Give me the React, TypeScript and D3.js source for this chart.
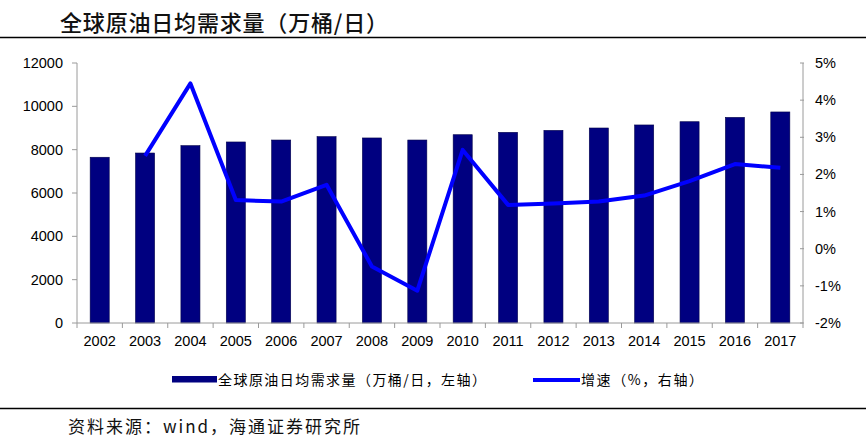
import React from "react";
import * as d3 from "d3";

const years = ["2002","2003","2004","2005","2006","2007","2008","2009","2010","2011","2012","2013","2014","2015","2016","2017"];
const demand = [7650, 7845, 8185, 8355, 8445, 8600, 8540, 8445, 8690, 8800, 8890, 9000, 9140, 9290, 9490, 9740];
const growth = [null, 2.50, 4.45, 1.31, 1.27, 1.72, -0.48, -1.13, 2.66, 1.18, 1.22, 1.27, 1.43, 1.82, 2.28, 2.18];
const leftTicks = [0, 2000, 4000, 6000, 8000, 10000, 12000];
const rightTicks = [-2, -1, 0, 1, 2, 3, 4, 5];

const W = 866, H = 439;
const L = 77, R = 803, T = 63, B = 323;
const FONT = "'Liberation Sans', Arial, sans-serif";
const CJK = "'Noto Sans CJK SC', sans-serif";

export default function App() {
  const x = d3.scaleBand<string>().domain(years).range([L, R]).paddingInner(0.58).paddingOuter(0.29);
  const xb = d3.scaleBand<string>().domain(years).range([L, R]);
  const yL = d3.scaleLinear().domain([0, 12000]).range([B, T]);
  const yR = d3.scaleLinear().domain([-2, 5]).range([B, T]);
  const pts = years.map((y, i) => ({ y, v: growth[i] })).filter(d => d.v !== null) as { y: string; v: number }[];
  const line = d3.line<{ y: string; v: number }>()
    .x(d => (xb(d.y) as number) + xb.bandwidth() / 2)
    .y(d => yR(d.v));
  const axisColor = "#9a9a9a";
  return (
    <svg width={W} height={H} style={{ position: "absolute", left: 0, top: 0, background: "#fff" }}>
      <text x={60} y={31} fontFamily={CJK} fontSize={22} fontWeight={500} fill="#111" textLength={328} lengthAdjust="spacing">全球原油日均需求量（万桶/日）</text>
      <line x1={0} x2={W} y1={37.5} y2={37.5} stroke="#000" strokeWidth={1.5} />
      {/* bars */}
      {years.map((yr, i) => (
        <rect key={yr} x={x(yr)} y={yL(demand[i])} width={x.bandwidth()} height={B - yL(demand[i])} fill="#000080" stroke="#00004a" strokeWidth={0.6} />
      ))}
      {/* axes */}
      <line x1={L} x2={L} y1={T} y2={B} stroke={axisColor} />
      <line x1={R} x2={R} y1={T} y2={B} stroke={axisColor} />
      <line x1={L} x2={R} y1={B} y2={B} stroke={axisColor} />
      {leftTicks.map(t => (
        <g key={t}>
          <line x1={L - 5} x2={L} y1={yL(t)} y2={yL(t)} stroke={axisColor} />
          <text x={63} y={yL(t) + 5} textAnchor="end" fontFamily={FONT} fontSize={14.5} fill="#000">{t}</text>
        </g>
      ))}
      {rightTicks.map(t => (
        <g key={t}>
          <line x1={R - 3} x2={R + 1} y1={yR(t)} y2={yR(t)} stroke={axisColor} />
          <text x={815} y={yR(t) + 5} textAnchor="start" fontFamily={FONT} fontSize={14.5} fill="#000">{t}%</text>
        </g>
      ))}
      {years.map((yr) => (
        <line key={yr} x1={xb(yr)} x2={xb(yr)} y1={B} y2={B + 5} stroke={axisColor} />
      ))}
      <line x1={R} x2={R} y1={B} y2={B + 5} stroke={axisColor} />
      {years.map((yr) => (
        <text key={yr} x={(xb(yr) as number) + xb.bandwidth() / 2} y={346} textAnchor="middle" fontFamily={FONT} fontSize={14.5} fill="#000">{yr}</text>
      ))}
      <path d={line(pts) || ""} fill="none" stroke="#0000ff" strokeWidth={4} strokeLinejoin="round" />
      {/* legend */}
      <rect x={172} y={376} width={45} height={6.5} fill="#000080" />
      <text x={218} y={385} fontFamily={CJK} fontSize={14} fill="#000" textLength={268} lengthAdjust="spacing">全球原油日均需求量（万桶/日，左轴）</text>
      <line x1={533} x2={580} y1={380} y2={380} stroke="#0000ff" strokeWidth={4} />
      <text x={581} y={385} fontFamily={CJK} fontSize={14} fill="#000" textLength={122} lengthAdjust="spacing">增速（%，右轴）</text>
      <line x1={0} x2={W} y1={408.5} y2={408.5} stroke="#000" strokeWidth={1.5} />
      <text x={68} y={433} fontFamily={CJK} fontSize={17} fill="#111" textLength={292} lengthAdjust="spacing">资料来源：wind，海通证券研究所</text>
    </svg>
  );
}
